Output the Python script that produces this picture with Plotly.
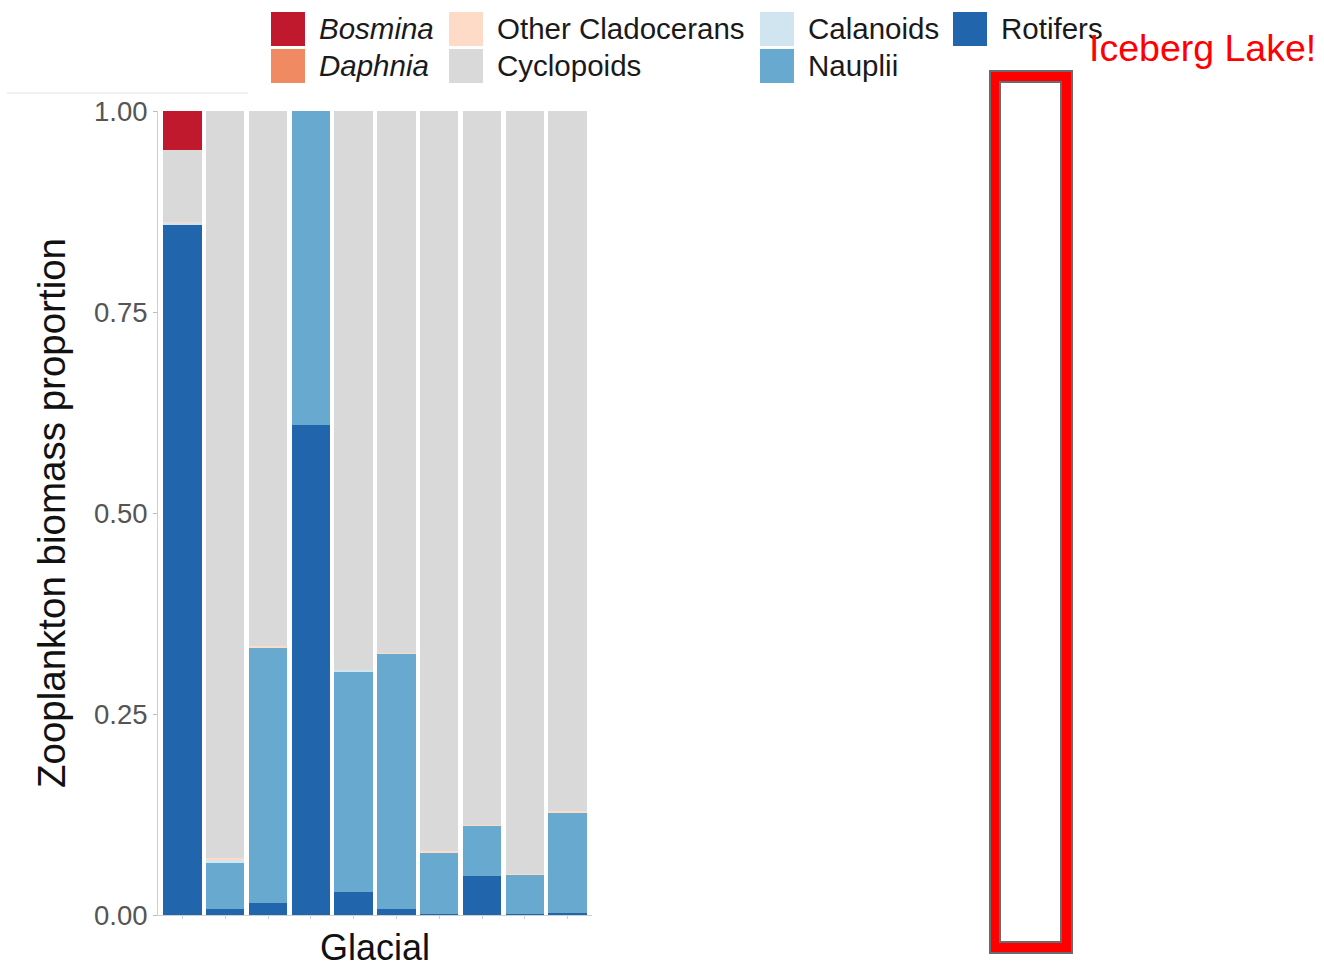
import plotly.graph_objects as go

# Sampling events in the glacial lake group (one stacked bar each)
samples = ["G01", "G02", "G03", "G04", "G05", "G06", "G07", "G08", "G09", "G10"]

# Biomass proportion per taxon and sample
rotifers = [0.858, 0.008, 0.015, 0.609, 0.029, 0.007, 0.001, 0.049, 0.001, 0.002]
nauplii = [0.000, 0.057, 0.318, 0.391, 0.274, 0.318, 0.077, 0.062, 0.049, 0.126]
calanoids = [0.003, 0.004, 0.000, 0.000, 0.002, 0.000, 0.000, 0.000, 0.000, 0.000]
other_cladocerans = [0.001, 0.002, 0.002, 0.000, 0.000, 0.001, 0.001, 0.001, 0.001, 0.001]
cyclopoids = [0.089, 0.929, 0.665, 0.000, 0.695, 0.674, 0.921, 0.888, 0.949, 0.871]
daphnia = [0.0, 0.0, 0.0, 0.0, 0.0, 0.0, 0.0, 0.0, 0.0, 0.0]
bosmina = [0.049, 0.0, 0.0, 0.0, 0.0, 0.0, 0.0, 0.0, 0.0, 0.0]

# Legend order (column-major, 2 rows) and colours
taxa = ["Bosmina", "Daphnia", "Other Cladocerans", "Cyclopoids", "Calanoids", "Nauplii", "Rotifers"]
italic_taxa = {"Bosmina", "Daphnia"}
colors = {
    "Bosmina": "#C0182D",
    "Daphnia": "#EF8A62",
    "Other Cladocerans": "#FDDBC7",
    "Cyclopoids": "#D9D9D9",
    "Calanoids": "#D1E5F0",
    "Nauplii": "#67A9CF",
    "Rotifers": "#2166AC",
}
values = {
    "Bosmina": bosmina,
    "Daphnia": daphnia,
    "Other Cladocerans": other_cladocerans,
    "Cyclopoids": cyclopoids,
    "Calanoids": calanoids,
    "Nauplii": nauplii,
    "Rotifers": rotifers,
}
# bottom-to-top stacking
stack_order = ["Rotifers", "Nauplii", "Calanoids", "Other Cladocerans", "Cyclopoids", "Daphnia", "Bosmina"]

y_ticks = [0, 0.25, 0.5, 0.75, 1.0]
y_ticktext = ["0.00", "0.25", "0.50", "0.75", "1.00"]

W, H = 1324, 968
ML, MR, MT, MB = 158, 732, 111, 53
PW, PH = W - ML - MR, H - MT - MB
FONT = "Liberation Sans, Arial, Helvetica, sans-serif"


def px_x(x):
    return (x - ML) / PW


def px_y(y):
    return (H - MB - y) / PH


fig = go.Figure()
for name in stack_order:
    fig.add_trace(go.Bar(
        x=samples, y=values[name], name=name,
        marker=dict(color=colors[name], line=dict(width=0)),
        showlegend=False,
    ))

shapes = []
annotations = []

# legend: 4 columns x 2 rows, swatches with labels
col_swatch_x = [271, 449, 760, 953]
row_center_y = [29, 66]
sw = 34
for i, name in enumerate(taxa):
    c, r = divmod(i, 2)
    x0 = col_swatch_x[c]
    yc = row_center_y[r]
    shapes.append(dict(type="rect", xref="paper", yref="paper",
                       x0=px_x(x0), x1=px_x(x0 + sw),
                       y0=px_y(yc + sw / 2), y1=px_y(yc - sw / 2),
                       fillcolor=colors[name], line=dict(width=0)))
    label = f"<i>{name}</i>" if name in italic_taxa else name
    annotations.append(dict(xref="paper", yref="paper", x=px_x(x0 + sw + 12), y=px_y(yc),
                            xanchor="left", yanchor="middle", text=label, showarrow=False,
                            font=dict(family=FONT, size=29.5, color="#1A1A1A")))

# thin rule under the legend area
shapes.append(dict(type="line", xref="paper", yref="paper",
                   x0=px_x(7), x1=px_x(248), y0=px_y(93), y1=px_y(93),
                   line=dict(color="#E3E3E3", width=1)))

# highlight frame for Iceberg Lake
shapes.append(dict(type="rect", xref="paper", yref="paper",
                   x0=px_x(990), x1=px_x(1072), y0=px_y(953), y1=px_y(71),
                   fillcolor="#FF0000", line=dict(color="#6B6B6B", width=2)))
shapes.append(dict(type="rect", xref="paper", yref="paper",
                   x0=px_x(1000), x1=px_x(1061), y0=px_y(942), y1=px_y(82),
                   fillcolor="#FFFFFF", line=dict(color="#6B6B6B", width=2)))
annotations.append(dict(xref="paper", yref="paper", x=px_x(1087), y=px_y(48),
                        xanchor="left", yanchor="middle", text="Iceberg Lake!", showarrow=False,
                        font=dict(family=FONT, size=37.5, color="#FF0000")))

fig.update_layout(
    width=W, height=H,
    margin=dict(l=ML, r=MR, t=MT, b=MB, autoexpand=False),
    paper_bgcolor="white", plot_bgcolor="white",
    barmode="stack", bargap=0.1,
    font=dict(family=FONT),
    shapes=shapes, annotations=annotations,
    showlegend=False,
)
fig.update_xaxes(
    range=[-0.57, 9.57], showticklabels=False, ticks="outside", ticklen=3,
    tickcolor="#CFCFCF", showline=True, linecolor="#CFCFCF", linewidth=1,
    showgrid=False, zeroline=False,
    title=dict(text="Glacial", font=dict(family=FONT, size=36, color="#111111"), standoff=19),
)
fig.update_yaxes(
    range=[0, 1], tickvals=y_ticks, ticktext=y_ticktext, ticks="outside", ticklen=4,
    tickcolor="#BDBDBD", showline=True, linecolor="#CFCFCF", linewidth=1,
    showgrid=False, zeroline=False,
    tickfont=dict(family=FONT, size=27.5, color="#555555"),
    title=dict(text="Zooplankton biomass proportion", font=dict(family=FONT, size=38.5, color="#111111"), standoff=16),
)

fig.write_html("out.html")
